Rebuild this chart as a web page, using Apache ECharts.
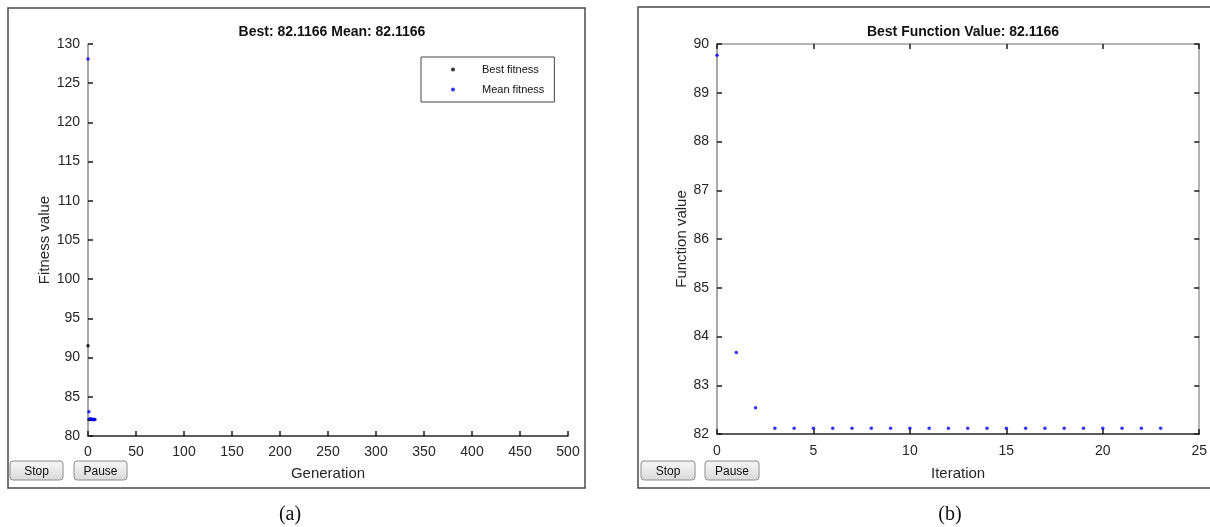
<!DOCTYPE html>
<html>
<head>
<meta charset="utf-8">
<title>GA and pattern search progress</title>
<script src="https://cdn.jsdelivr.net/npm/echarts@6/dist/echarts.min.js"></script>
<style>
  html, body { margin: 0; padding: 0; background: #ffffff; }
  #chart { width: 1210px; height: 527px; }
</style>
</head>
<body>
<div id="chart"></div>
<script>
// (a) genetic algorithm: fitness per generation
const generations = [0, 1, 2, 3, 4, 5, 6, 7];
const bestFitness = [91.5, 82.1166, 82.1166, 82.1166, 82.1166, 82.1166, 82.1166, 82.1166];
const meanFitness = [128.1, 83.1, 82.2, 82.15, 82.13, 82.12, 82.12, 82.1166];

// (b) refinement: best function value per iteration
const iterations = [0, 1, 2, 3, 4, 5, 6, 7, 8, 9, 10, 11, 12, 13, 14, 15, 16, 17, 18, 19, 20, 21, 22, 23];
const bestFunctionValue = [89.77, 83.67, 82.54, 82.1166, 82.1166, 82.1166, 82.1166, 82.1166,
  82.1166, 82.1166, 82.1166, 82.1166, 82.1166, 82.1166, 82.1166, 82.1166, 82.1166, 82.1166,
  82.1166, 82.1166, 82.1166, 82.1166, 82.1166, 82.1166];

const titleA = 'Best: 82.1166 Mean: 82.1166';
const titleB = 'Best Function Value: 82.1166';

const FONT = 'Liberation Sans, Arial, sans-serif';
const pair = (xs, ys) => xs.map((x, i) => [x, ys[i]]);

const chart = echarts.init(document.getElementById('chart'), null, { renderer: 'canvas' });

function button(x, y, w, h, label) {
  return [
    {
      type: 'rect', silent: true,
      shape: { x: x, y: y, width: w, height: h, r: 3 },
      style: {
        fill: new echarts.graphic.LinearGradient(0, 0, 0, 1, [
          { offset: 0, color: '#f7f7f7' }, { offset: 1, color: '#d9d9d9' }
        ]),
        stroke: '#8c8c8c', lineWidth: 1
      }
    },
    {
      type: 'text', silent: true,
      style: {
        x: x + w / 2, y: y + h / 2 + 1, text: label, align: 'center', verticalAlign: 'middle',
        font: '12px ' + FONT, fill: '#111'
      }
    }
  ];
}

const tickStyle = { show: true, inside: true, length: 5, lineStyle: { color: '#1a1a1a', width: 1.5 } };
const labelStyle = { color: '#262626', fontSize: 14, fontFamily: FONT };
const nameStyle = { color: '#262626', fontSize: 15, fontFamily: FONT };

const option = {
  backgroundColor: '#ffffff',
  animation: false,
  title: [
    {
      text: titleA, left: 327, top: 20, textAlign: 'center',
      textStyle: { fontSize: 14, fontWeight: 'bold', color: '#111', fontFamily: FONT }
    },
    {
      text: titleB, left: 958, top: 20, textAlign: 'center',
      textStyle: { fontSize: 14, fontWeight: 'bold', color: '#111', fontFamily: FONT }
    }
  ],
  legend: {
    data: ['Best fitness', 'Mean fitness'],
    orient: 'vertical',
    left: 421, top: 57,
    width: 136,
    icon: 'circle',
    itemWidth: 4, itemHeight: 4,
    itemGap: 9,
    padding: [7, 10, 7, 30],
    borderColor: '#444', borderWidth: 1,
    textStyle: { fontSize: 11, fontFamily: FONT, color: '#111', padding: [0, 0, 0, 22] }
  },
  grid: [
    { left: 88, right: 642, top: 44, bottom: 91 },
    { left: 717, right: 10, top: 44, bottom: 93 }
  ],
  xAxis: [
    {
      gridIndex: 0, type: 'value', min: 0, max: 500, interval: 50,
      name: 'Generation', nameLocation: 'middle', nameGap: 30, nameTextStyle: nameStyle,
      axisLine: { show: true, lineStyle: { color: '#262626', width: 1.5 } },
      axisTick: tickStyle, axisLabel: Object.assign({ margin: 9 }, labelStyle),
      splitLine: { show: false }
    },
    {
      gridIndex: 1, type: 'value', min: 0, max: 25, interval: 5,
      name: 'Iteration', nameLocation: 'middle', nameGap: 32, nameTextStyle: nameStyle,
      axisLine: { show: true, lineStyle: { color: '#262626', width: 1.5 } },
      axisTick: tickStyle, axisLabel: Object.assign({ margin: 10 }, labelStyle),
      splitLine: { show: false }
    },
    {
      gridIndex: 1, type: 'value', position: 'top', min: 0, max: 25, interval: 5,
      axisLine: { show: true, onZero: false, lineStyle: { color: '#9a9a9a', width: 1.5 } },
      axisTick: tickStyle, axisLabel: { show: false }, splitLine: { show: false }
    }
  ],
  yAxis: [
    {
      gridIndex: 0, type: 'value', min: 80, max: 130, interval: 5,
      name: 'Fitness value', nameLocation: 'middle', nameGap: 36, nameTextStyle: nameStyle,
      axisLine: { show: true, lineStyle: { color: '#8a8a8a', width: 1.5 } },
      axisTick: tickStyle, axisLabel: Object.assign({ margin: 8 }, labelStyle),
      splitLine: { show: false }
    },
    {
      gridIndex: 1, type: 'value', min: 82, max: 90, interval: 1,
      name: 'Function value', nameLocation: 'middle', nameGap: 26, nameTextStyle: nameStyle,
      axisLine: { show: true, lineStyle: { color: '#8a8a8a', width: 1.5 } },
      axisTick: tickStyle, axisLabel: Object.assign({ margin: 8 }, labelStyle),
      splitLine: { show: false }
    },
    {
      gridIndex: 1, type: 'value', position: 'right', min: 82, max: 90, interval: 1,
      axisLine: { show: true, onZero: false, lineStyle: { color: '#9a9a9a', width: 1.5 } },
      axisTick: tickStyle, axisLabel: { show: false }, splitLine: { show: false }
    }
  ],
  series: [
    {
      name: 'Best fitness', type: 'scatter', xAxisIndex: 0, yAxisIndex: 0,
      symbol: 'circle', symbolSize: 3.5, itemStyle: { color: '#000000' },
      data: pair(generations, bestFitness), z: 2
    },
    {
      name: 'Mean fitness', type: 'scatter', xAxisIndex: 0, yAxisIndex: 0,
      symbol: 'circle', symbolSize: 3.5, itemStyle: { color: '#0000ff' },
      data: pair(generations, meanFitness), z: 3
    },
    {
      name: 'Best function value', type: 'scatter', xAxisIndex: 1, yAxisIndex: 1,
      symbol: 'circle', symbolSize: 3.5, itemStyle: { color: '#0000ff' },
      data: pair(iterations, bestFunctionValue), z: 3
    }
  ],
  graphic: [
    // figure panels
    { type: 'rect', silent: true, shape: { x: 8, y: 8, width: 577, height: 480 },
      style: { fill: 'none', stroke: '#4a4a4a', lineWidth: 1.5 } },
    { type: 'rect', silent: true, shape: { x: 638, y: 7, width: 590, height: 481 },
      style: { fill: 'none', stroke: '#4a4a4a', lineWidth: 1.5 } },
    ...button(10, 461, 53, 19, 'Stop'),
    ...button(74, 461, 53, 19, 'Pause'),
    ...button(641, 461, 54, 19, 'Stop'),
    ...button(705, 461, 54, 19, 'Pause'),
    // panel captions
    { type: 'text', silent: true,
      style: { x: 290, y: 515, text: '(a)', align: 'center', verticalAlign: 'middle',
        font: '20px Liberation Serif, Times New Roman, serif', fill: '#111' } },
    { type: 'text', silent: true,
      style: { x: 950, y: 515, text: '(b)', align: 'center', verticalAlign: 'middle',
        font: '20px Liberation Serif, Times New Roman, serif', fill: '#111' } }
  ]
};

chart.setOption(option);
</script>
</body>
</html>
